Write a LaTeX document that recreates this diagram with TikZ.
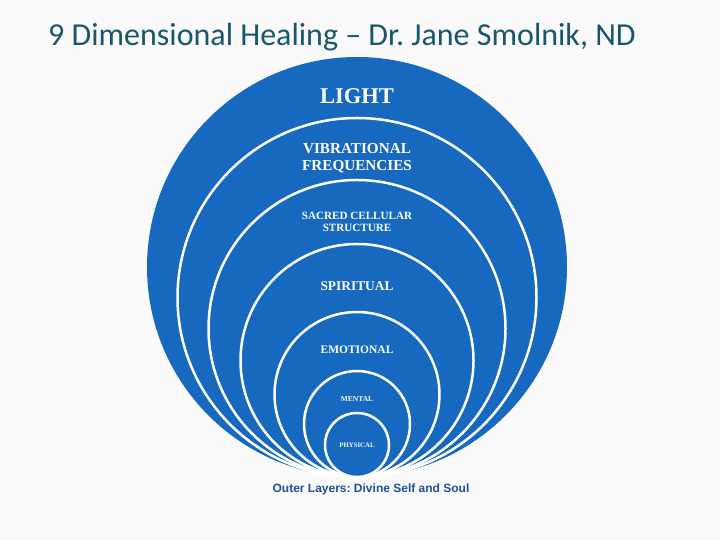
\documentclass[tikz,border=0pt]{standalone}
\usepackage{fontspec}
\setmainfont{Liberation Serif}
\newfontfamily\titolofont{Carlito}
\newfontfamily\didafont{Liberation Sans}
\usetikzlibrary{positioning}
\definecolor{bluCerchio}{HTML}{1769C0}
\definecolor{verdeTitolo}{HTML}{17566E}
\definecolor{bluDida}{HTML}{1F4F94}
\definecolor{sfondo}{HTML}{FAFAFA}
\frenchspacing

\begin{document}
\begin{tikzpicture}[x=1pt,y=1pt,
anello/.style={circle,draw=white,line width=2.5pt,fill=bluCerchio,inner sep=0pt,outer sep=0pt,anchor=south},
etich/.style={text=white,align=center,anchor=center,inner sep=0pt},
titolo/.style={text=verdeTitolo,anchor=base west,inner sep=0pt,font=\titolofont\fontsize{32}{34}\selectfont},
dida/.style={text=bluDida,inner sep=0pt,font=\didafont\bfseries\fontsize{12}{13}\selectfont}
]
\fill[sfondo] (0,0) rectangle (720,540);
\useasboundingbox (0,0) rectangle (720,540);
\coordinate (base) at (357,63);
%--
\node[titolo] (titolo) at (48,494) {9 Dimensional Healing – Dr. Jane Smolnik, ND};
%--
\node[anello,draw=none,minimum size=420pt] (light) at (base){};
\node[anello,minimum size=359pt] (vibr) at (base){};
\node[anello,minimum size=297pt] (sacro) at (base){};
\node[anello,minimum size=233pt] (spirito) at (base){};
\node[anello,minimum size=165pt] (emoz) at (base){};
\node[anello,minimum size=106pt] (mente) at (base){};
\node[anello,minimum size=64pt] (fisico) at (base){};
%--
\node[etich,font=\bfseries\fontsize{22.5}{23}\selectfont] (tLight) at ([yshift=-39pt]light.north){LIGHT};
\node[etich,font=\bfseries\fontsize{15.2}{16.7}\selectfont] (tVibr) at ([yshift=-40pt]vibr.north){VIBRATIONAL\\FREQUENCIES};
\node[etich,font=\bfseries\fontsize{11.1}{11.8}\selectfont] (tSacro) at ([yshift=-41.6pt]sacro.north){SACRED CELLULAR\\STRUCTURE};
\node[etich,font=\bfseries\fontsize{13.4}{14}\selectfont] (tSpirito) at ([yshift=-41.7pt]spirito.north){SPIRITUAL};
\node[etich,font=\bfseries\fontsize{11.5}{12}\selectfont] (tEmoz) at ([yshift=-38pt]emoz.north){EMOTIONAL};
\node[etich,font=\bfseries\fontsize{7.5}{8}\selectfont] (tMente) at ([yshift=-28.5pt]mente.north){MENTAL};
\node[etich,font=\bfseries\fontsize{6.8}{7}\selectfont] (tFisico) at ([yshift=-32.7pt]fisico.north){PHYSICAL};
%--
\node[dida,below=7pt of base,anchor=north,xshift=14pt] (dida){Outer Layers: Divine Self and Soul};
\end{tikzpicture}
\end{document}
